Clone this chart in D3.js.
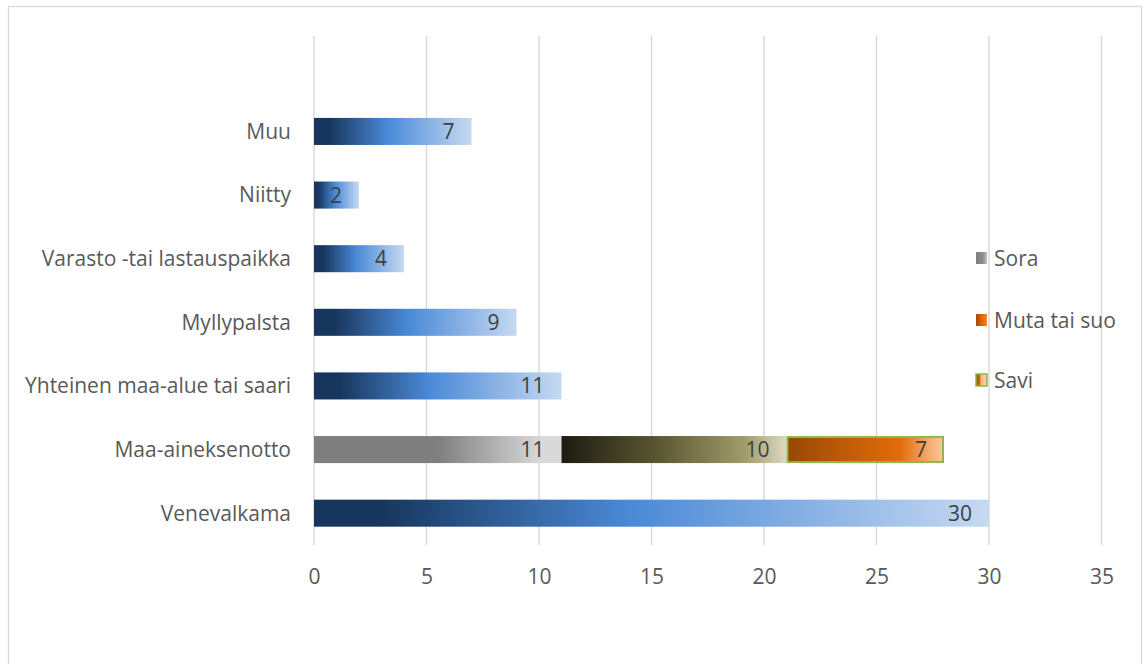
<!DOCTYPE html>
<html><head><meta charset="utf-8">
<script src="https://cdn.jsdelivr.net/npm/d3@7"></script>
<style>html,body{margin:0;padding:0;background:#fff;}svg{display:block;}</style>
</head><body>
<script>
const categories = ["", "Muu", "Niitty", "Varasto -tai lastauspaikka", "Myllypalsta", "Yhteinen maa-alue tai saari", "Maa-aineksenotto", "Venevalkama"];
const mainValues = [0, 7, 2, 4, 9, 11, 0, 30];
const soraValues = [0, 0, 0, 0, 0, 0, 11, 0];
const mutaValues = [0, 0, 0, 0, 0, 0, 10, 0];
const saviValues = [0, 0, 0, 0, 0, 0, 7, 0];
const seriesNames = ["Main", "Sora", "Muta tai suo", "Savi"];
const legendNames = ["Sora", "Muta tai suo", "Savi"];
const xTicks = [0, 5, 10, 15, 20, 25, 30, 35];

const W = 1143, H = 664;
const font = "'Open Sans', sans-serif";
const FS = 21;
const svg = d3.select("body").append("svg").attr("width", W).attr("height", H);
const defs = svg.append("defs");

function grad(id, stops) {
  const g = defs.append("linearGradient").attr("id", id).attr("x1", "0").attr("y1", "0").attr("x2", "1").attr("y2", "0");
  stops.forEach(s => g.append("stop").attr("offset", s[0]).attr("stop-color", s[1]));
}
grad("gMain", [[0, "#17365d"], [0.1, "#17365d"], [0.47, "#4a8ad8"], [1, "#c6d9f1"]]);
grad("gSora", [[0, "#7f7f7f"], [0.5, "#7f7f7f"], [0.92, "#d9d9d9"], [1, "#d9d9d9"]]);
grad("gMuta", [[0, "#1d1b10"], [0.45, "#5e5a34"], [0.82, "#a39d6c"], [1, "#ddd9c4"]]);
grad("gSavi", [[0, "#974806"], [0.72, "#e36c09"], [1, "#fbc89c"]]);
grad("gLegSora", [[0, "#7f7f7f"], [0.6, "#8c8c8c"], [1, "#bfbfbf"]]);
grad("gLegMuta", [[0, "#a84c00"], [0.6, "#e36c09"], [1, "#f28a2e"]]);
grad("gLegSavi", [[0, "#974806"], [0.35, "#e36c09"], [0.5, "#fac090"], [1, "#fbd0ac"]]);

// outer border
svg.append("rect").attr("x", 8.5).attr("y", 6.5).attr("width", 1133).attr("height", 680)
  .attr("fill", "none").attr("stroke", "#d9d9d9").attr("stroke-width", 1.3);

const x = d3.scaleLinear().domain([0, 35]).range([314, 1101.5]);
const y = d3.scaleBand().domain(categories).range([36, 545]).paddingInner(0.575).paddingOuter(0.2875);

// gridlines
svg.append("g").selectAll("line").data(xTicks).join("line")
  .attr("x1", d => x(d)).attr("x2", d => x(d)).attr("y1", 36).attr("y2", 545)
  .attr("stroke", "#d9d9d9").attr("stroke-width", 1.5);

// x axis labels
const xAxis = d3.axisBottom(x).tickValues(xTicks).tickSize(0).tickPadding(0);
const gx = svg.append("g").attr("transform", "translate(0,577)").call(xAxis);
gx.select(".domain").remove();
gx.selectAll("text").attr("font-family", font).attr("font-size", FS).attr("fill", "#595959").attr("y", 0).attr("dy", "0.35em");

// y axis labels
const yAxis = d3.axisLeft(y).tickSize(0).tickPadding(0);
const gy = svg.append("g").attr("transform", "translate(291,0)").call(yAxis);
gy.select(".domain").remove();
gy.selectAll("text").attr("font-family", font).attr("font-size", FS).attr("fill", "#595959").attr("dy", "0.35em");

// stacked data
const rows = categories.map((c, i) => ({cat: c, "Main": mainValues[i], "Sora": soraValues[i], "Muta tai suo": mutaValues[i], "Savi": saviValues[i]}));
const stack = d3.stack().keys(seriesNames)(rows);
const fills = {"Main": "url(#gMain)", "Sora": "url(#gSora)", "Muta tai suo": "url(#gMuta)", "Savi": "url(#gSavi)"};

stack.forEach(layer => {
  const key = layer.key;
  const g = svg.append("g");
  const segs = layer.filter(d => d[1] - d[0] > 0);
  g.selectAll("rect").data(segs).join("rect")
    .attr("x", d => x(d[0]) + (key === "Savi" ? 1 : 0))
    .attr("y", d => y(d.data.cat) + (key === "Savi" ? 1 : 0))
    .attr("width", d => x(d[1]) - x(d[0]) - (key === "Savi" ? 2 : 0))
    .attr("height", y.bandwidth() - (key === "Savi" ? 2 : 0))
    .attr("fill", fills[key])
    .attr("stroke", key === "Savi" ? "#8fb64a" : "none")
    .attr("stroke-width", key === "Savi" ? 2 : 0);
  g.selectAll("text").data(segs).join("text")
    .attr("x", d => x(d[1]) - 17)
    .attr("y", d => y(d.data.cat) + y.bandwidth() / 2)
    .attr("dy", "0.36em")
    .attr("text-anchor", "end")
    .attr("font-family", font).attr("font-size", FS).attr("fill", "#404040")
    .text(d => d[1] - d[0]);
});

// legend
const legY = [258, 320, 380];
const legFill = ["url(#gLegSora)", "url(#gLegMuta)", "url(#gLegSavi)"];
const lg = svg.append("g");
legendNames.forEach((n, i) => {
  lg.append("rect").attr("x", 976).attr("y", legY[i] - 6).attr("width", 11).attr("height", 12)
    .attr("fill", legFill[i])
    .attr("stroke", i === 2 ? "#8fb64a" : "none").attr("stroke-width", i === 2 ? 1.5 : 0);
  lg.append("text").attr("x", 994).attr("y", legY[i]).attr("dy", "0.36em")
    .attr("font-family", font).attr("font-size", FS).attr("fill", "#595959").text(n);
});
</script>
</body></html>
